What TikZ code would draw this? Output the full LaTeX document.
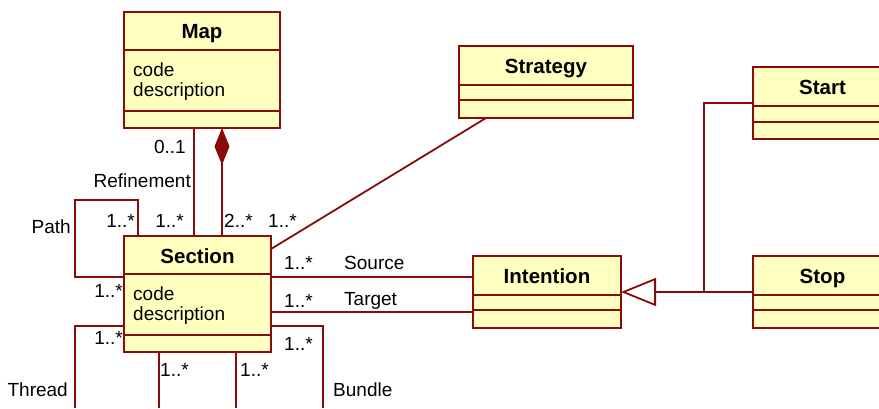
\documentclass[tikz,border=0pt]{standalone}
\usepackage{fontspec}
\setmainfont{Liberation Sans}
\usetikzlibrary{positioning,arrows.meta}
\definecolor{umlred}{RGB}{136,10,10}
\definecolor{umlyellow}{RGB}{255,255,192}
\tikzset{
	classbox/.style={draw=umlred,fill=umlyellow,line width=1.8pt,anchor=north west,inner sep=0,outer sep=0},
	classname/.style={font=\fontsize{20.5}{24}\selectfont\bfseries,anchor=base,inner sep=0},
	attr/.style={anchor=base west,inner sep=0},
	mult/.style={anchor=base west,inner sep=0},
	multr/.style={anchor=base east,inner sep=0},
	assoc/.style={draw=umlred,line width=1.8pt},
}

\begin{document}
\begin{tikzpicture}[x=1pt,y=-1pt,every node/.style={font=\fontsize{19}{23}\selectfont}]
	\useasboundingbox (0,0) rectangle (879,408);
	\clip (0,0) rectangle (879,408);
	% classes
	\node[classbox,minimum width=156pt,minimum height=116pt] (map) at (124,12) {};
	\node[classbox,minimum width=147pt,minimum height=116pt] (section) at (124,236) {};
	\node[classbox,minimum width=174pt,minimum height=72pt] (strategy) at (459,46) {};
	\node[classbox,minimum width=139pt,minimum height=72pt] (start) at (753,67) {};
	\node[classbox,minimum width=148pt,minimum height=72pt] (intention) at (473,256) {};
	\node[classbox,minimum width=139pt,minimum height=72pt] (stop) at (753,256) {};
	\draw[assoc] ([yshift=-38pt]map.north west) -- ([yshift=-38pt]map.north east);
	\draw[assoc] ([yshift=-99pt]map.north west) -- ([yshift=-99pt]map.north east);
	\draw[assoc] ([yshift=-38pt]section.north west) -- ([yshift=-38pt]section.north east);
	\draw[assoc] ([yshift=-99pt]section.north west) -- ([yshift=-99pt]section.north east);
	\draw[assoc] ([yshift=-39pt]strategy.north west) -- ([yshift=-39pt]strategy.north east);
	\draw[assoc] ([yshift=-54pt]strategy.north west) -- ([yshift=-54pt]strategy.north east);
	\draw[assoc] ([yshift=-39pt]start.north west) -- ([yshift=-39pt]start.north east);
	\draw[assoc] ([yshift=-55pt]start.north west) -- ([yshift=-55pt]start.north east);
	\draw[assoc] ([yshift=-39pt]intention.north west) -- ([yshift=-39pt]intention.north east);
	\draw[assoc] ([yshift=-54pt]intention.north west) -- ([yshift=-54pt]intention.north east);
	\draw[assoc] ([yshift=-39pt]stop.north west) -- ([yshift=-39pt]stop.north east);
	\draw[assoc] ([yshift=-54pt]stop.north west) -- ([yshift=-54pt]stop.north east);
	\node[classname] (mapname) at ([yshift=-26pt]map.north) {Map};
	\node[classname] (sectionname) at ([yshift=-27pt]section.north) {Section};
	\node[classname] (strategyname) at ([yshift=-27pt]strategy.north) {Strategy};
	\node[classname] (startname) at ([yshift=-27pt]start.north) {Start};
	\node[classname] (intentionname) at ([yshift=-27pt]intention.north) {Intention};
	\node[classname] (stopname) at ([yshift=-27pt]stop.north) {Stop};
	\node[attr] (mapcode) at ([xshift=9pt,yshift=-64.5pt]map.north west) {code};
	\node[attr] (mapdesc) at ([xshift=9pt,yshift=-84.5pt]map.north west) {description};
	\node[attr] (sectioncode) at ([xshift=9pt,yshift=-64.5pt]section.north west) {code};
	\node[attr] (sectiondesc) at ([xshift=9pt,yshift=-84.5pt]section.north west) {description};
	% ends of the loops below the picture
	\coordinate (pathcorner) at (75,200);
	\coordinate (threadleft) at (75,408);
	\coordinate (threadright) at (159,408);
	\coordinate (bundleleft) at (236,408);
	\coordinate (bundleright) at (323,408);
	\coordinate (genjoin) at (704,292);
	% associations
	\draw[assoc] (map.south -| 194,0) -- (section.north -| 194,0);
	\draw[assoc,{Diamond[length=37pt,width=15pt]}-] (map.south -| 222,0) -- (section.north -| 222,0);
	\draw[assoc] ([yshift=-13pt]section.north east) -- ([xshift=27pt]strategy.south west);
	\draw[assoc] (section.east |- 0,277) -- (intention.west |- 0,277);
	\draw[assoc] (section.east |- 0,312) -- (intention.west |- 0,312);
	\draw[assoc] (section.north -| 138,0) |- (pathcorner) |- (section.west |- 0,277);
	\draw[assoc] (section.west |- 0,326) -| (threadleft);
	\draw[assoc] (section.south -| threadright) -- (threadright);
	\draw[assoc] (section.south -| bundleleft) -- (bundleleft);
	\draw[assoc] (section.east |- 0,326) -| (bundleright);
	\draw[assoc,-{Triangle[open,length=35pt,width=28pt]}] (stop.west) -- (intention.east);
	\draw[assoc] (start.west) -| (genjoin);
	% labels
	\node[multr] (refmin) at (186,153) {0..1};
	\node[multr] (refname) at (191,187) {Refinement};
	\node[multr] (refmax) at (184,227) {1..*};
	\node[multr] (pathtop) at (135,227) {1..*};
	\node[multr] (pathname) at (71,233) {Path};
	\node[mult] (partmin) at (224,227) {2..*};
	\node[mult] (strategymult) at (268,227) {1..*};
	\node[mult] (sourcemult) at (284,269) {1..*};
	\node[mult] (sourcename) at (344,269) {Source};
	\node[mult] (targetmult) at (284,307) {1..*};
	\node[mult] (targetname) at (344,305) {Target};
	\node[multr] (pathbot) at (123,297) {1..*};
	\node[multr] (threadtop) at (123,344) {1..*};
	\node[mult] (threadbot) at (160,376) {1..*};
	\node[mult] (bundlebot) at (240,376) {1..*};
	\node[mult] (bundletop) at (284,350) {1..*};
	\node[multr] (threadname) at (68,396) {Thread};
	\node[mult] (bundlename) at (333,396) {Bundle};
\end{tikzpicture}
\end{document}
